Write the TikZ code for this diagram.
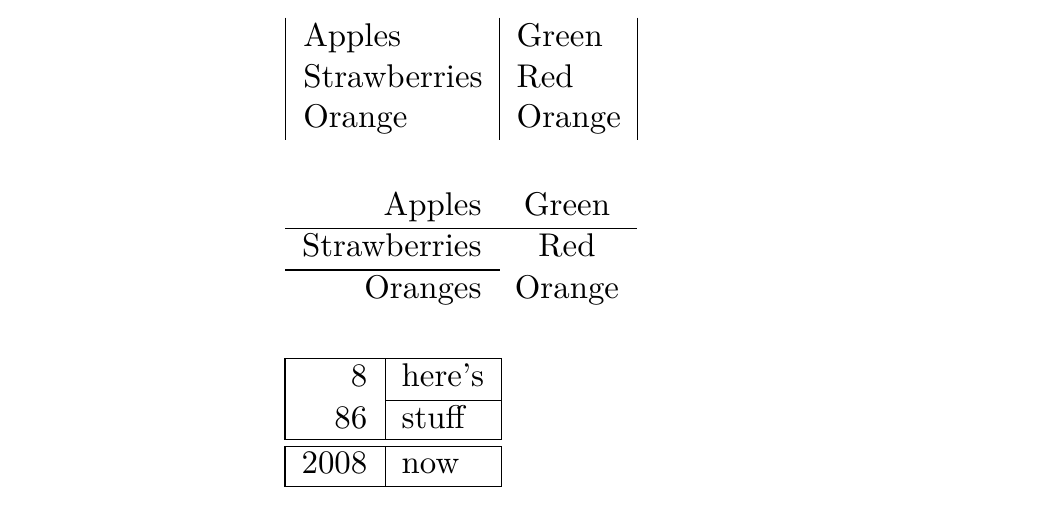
\documentclass[tikz,border=0pt]{standalone}
\begin{document}
\begin{tikzpicture}[x=0.3333pt, y=-0.3333pt,
  txt/.style={inner sep=0pt, outer sep=0pt, font=\fontsize{10.95}{13.6}\selectfont},
  lw/.style={txt, anchor=base west},
  re/.style={txt, anchor=base east},
  ce/.style={txt, anchor=base},
  tabrule/.style={line width=0.4pt, black}]
\useasboundingbox (0,0) rectangle (1061,515);
% ---------- table 1 ----------
\coordinate (r1t) at (285.3,17.7);  \coordinate (r1b) at (285.3,140.1);
\coordinate (r2t) at (499.3,17.7);  \coordinate (r2b) at (499.3,140.1);
\coordinate (r3t) at (637.7,17.7);  \coordinate (r3b) at (637.7,140.1);
\draw[tabrule] (r1t) -- (r1b);
\draw[tabrule] (r2t) -- (r2b);
\draw[tabrule] (r3t) -- (r3b);
\node[lw] (t1a) at (303.3,46.3) {Apples};
\node[lw] (t1b) at (303.3,87.1) {Strawberries};
\node[lw] (t1c) at (303.3,127.9) {Orange};
\node[lw] (t1d) at (516.7,46.3) {Green};
\node[lw] (t1e) at (516.7,87.1) {Red};
\node[lw] (t1f) at (516.7,127.9) {Orange};
% ---------- table 2 ----------
\node[re] (t2a) at (481.5,215.5) {Apples};
\node[re] (t2b) at (481.5,256.8) {Strawberries};
\node[re] (t2c) at (481.5,298.0) {Oranges};
\node[ce] (t2d) at (567,215.5) {Green};
\node[ce] (t2e) at (567,256.8) {Red};
\node[ce] (t2f) at (567,298.0) {Orange};
\coordinate (h1l) at (285,228.5); \coordinate (h1r) at (637,228.5);
\coordinate (h2l) at (285,270);   \coordinate (h2r) at (499.5,270);
\draw[tabrule] (h1l) -- (h1r);
\draw[tabrule] (h2l) -- (h2r);
% ---------- table 3 ----------
\coordinate (b1nw) at (285,358.3); \coordinate (b1se) at (501.7,439.3);
\coordinate (b2nw) at (285,446.7); \coordinate (b2se) at (501.7,486.7);
\draw[tabrule] (b1nw) rectangle (b1se);
\draw[tabrule] (b2nw) rectangle (b2se);
\coordinate (m1t) at (385.3,358.3); \coordinate (m1b) at (385.3,439.3);
\coordinate (m2t) at (385.3,446.7); \coordinate (m2b) at (385.3,486.7);
\coordinate (cl) at (385.3,400.7);  \coordinate (cr) at (501.7,400.7);
\draw[tabrule] (m1t) -- (m1b);
\draw[tabrule] (m2t) -- (m2b);
\draw[tabrule] (cl) -- (cr);
\node[re] (t3a) at (367.3,386.7) {8};
\node[re] (t3b) at (367.3,428.3) {86};
\node[re] (t3c) at (367.3,473.3) {2008};
\node[lw] (t3d) at (401.7,386.7) {here’s};
\node[lw] (t3e) at (401.7,428.3) {stuff};
\node[lw] (t3f) at (401.7,473.3) {now};
\end{tikzpicture}
\end{document}
